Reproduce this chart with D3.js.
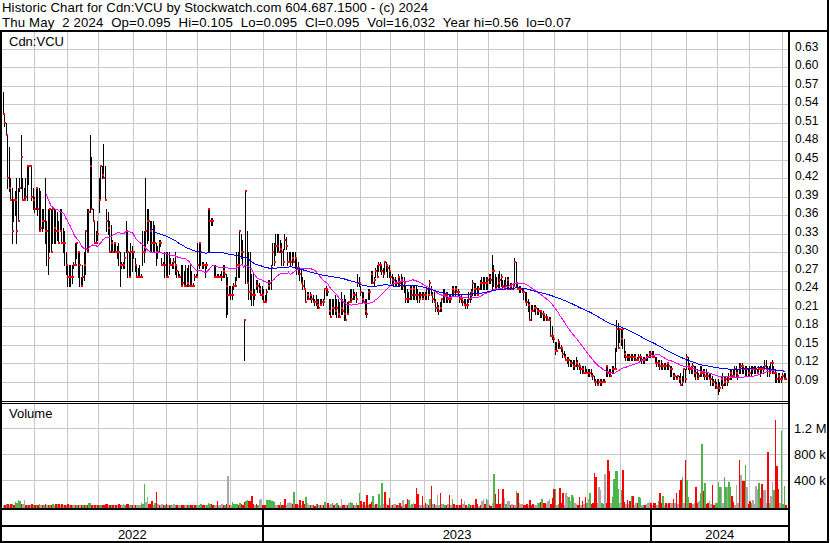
<!DOCTYPE html>
<html>
<head>
<meta charset="utf-8">
<title>Historic Chart for Cdn:VCU</title>
<script src="https://cdn.jsdelivr.net/npm/d3@7"></script>
<style>
  body { margin: 0; background: #fff; }
  svg { display: block; font-family: Arial, "Liberation Sans", sans-serif; }
</style>
</head>
<body>
<svg id="chart" width="830" height="543"></svg>
<script>
// ---- data: one entry per weekday, May 2 2022 .. May 2 2024 ----
// prices in thousandths of a dollar
const high = [
560,525,510,490,470,420,405,385,400,420, 405,420,490,420,405,420,440,440,440,440,
405,390,405,405,405,400,370,370,420,350, 370,370,370,370,370,370,365,350,370,370,
340,335,300,280,280,280,280,285,315,315, 300,300,260,280,300,335,370,370,490,455,
370,350,335,350,420,440,440,475,440,370, 365,350,345,320,315,315,310,315,300,285,
285,300,350,335,300,315,310,300,290,280, 275,280,265,335,335,420,370,370,350,350,
350,345,315,310,320,320,290,285,300,300, 300,300,290,285,290,300,280,270,265,280,
280,270,280,275,280,280,270,250,265,265, 315,315,315,285,285,280,285,370,370,355,
355,280,280,265,265,265,270,280,280,265, 260,245,245,245,250,260,300,300,335,330,
320,190,400,335,300,300,265,265,240,255, 255,250,245,245,240,230,240,255,255,280,
315,315,330,330,330,320,315,305,330,325, 300,300,300,300,300,300,290,285,275,275,
260,255,240,235,235,235,230,230,225,230, 225,225,225,225,225,240,245,240,225,225,
225,225,230,225,225,220,235,225,230,225, 220,220,240,240,240,235,235,265,260,245,
235,235,225,225,240,240,270,270,260,275, 280,285,285,280,275,285,285,280,280,270,
265,260,260,255,265,260,265,260,260,245, 240,235,245,245,245,245,245,240,235,235,
235,235,235,245,240,255,245,235,235,225, 220,215,220,225,240,240,235,235,230,230,
245,245,245,245,240,230,230,225,225,225, 225,235,235,240,255,250,250,245,245,255,
260,260,260,260,260,265,265,295,280,265, 260,265,270,265,255,255,260,260,260,250,
250,250,290,285,250,245,245,240,240,235, 235,225,220,215,215,215,215,210,210,205,
205,205,200,200,195,195,195,180,165,155, 155,160,155,150,145,140,135,130,130,125,
125,125,125,130,125,120,115,115,115,115, 110,110,110,110,105,100,95,95,95,95,
95,95,95,115,115,110,110,115,115,145, 190,185,175,175,175,160,140,135,135,135,
135,135,135,135,130,135,135,130,130,130, 135,135,140,140,140,140,130,130,125,125,
125,120,120,120,120,120,115,115,105,105, 100,100,100,105,100,110,110,135,130,120,
115,120,115,115,110,105,115,115,110,110, 110,105,105,105,100,95,95,90,95,90,
100,105,100,100,100,105,110,110,110,115, 115,110,120,120,120,115,115,115,110,115,
115,115,115,115,110,115,115,115,115,125, 125,115,115,120,125,115,110,105,105,105,
100,105,105,105];
const low = [
525,505,490,405,400,385,315,350,360,315, 350,400,405,385,385,385,385,410,440,385,
370,365,370,360,335,335,335,340,315,280, 265,300,300,315,315,315,320,315,335,315,
300,280,265,245,245,245,250,275,280,290, 260,245,245,245,255,265,300,300,365,370,
350,315,315,320,365,385,420,420,385,335, 330,300,300,300,300,300,290,280,245,275,
275,275,300,260,260,260,270,290,270,260, 260,260,260,280,285,300,315,320,300,300,
300,300,280,290,300,310,280,280,260,260, 260,265,280,275,275,265,260,260,260,245,
245,245,245,245,245,245,245,245,255,260, 260,275,280,275,275,260,275,300,300,345,
345,260,260,260,260,260,255,260,260,195, 200,230,225,225,240,245,255,260,260,290,
280,125,250,250,225,225,215,215,225,240, 235,235,230,225,220,220,220,240,240,240,
280,280,295,300,300,300,280,280,305,305, 280,285,280,280,285,275,265,265,255,250,
240,240,220,225,225,225,220,220,215,215, 210,210,215,215,215,225,230,230,200,195,
200,200,200,195,195,195,200,200,190,190, 200,200,220,220,225,225,220,245,245,230,
220,220,200,195,225,225,250,250,245,260, 260,270,270,265,260,265,270,260,260,250,
250,245,245,245,245,245,240,240,235,220, 220,220,225,225,225,225,225,220,220,225,
225,225,225,225,225,230,230,220,220,205, 205,200,205,205,220,220,220,220,220,220,
230,230,230,235,230,220,220,215,215,210, 210,220,220,225,230,230,230,230,230,240,
240,240,240,240,240,250,250,240,245,240, 240,240,240,245,240,240,240,240,240,240,
240,240,245,245,240,235,235,235,225,220, 215,205,190,190,205,205,200,200,200,195,
195,190,190,190,190,190,165,160,155,135, 140,145,145,140,130,130,125,120,115,115,
115,110,110,115,110,110,105,105,105,105, 105,100,100,100,95,90,85,85,85,85,
85,90,90,100,100,100,100,105,105,110, 140,145,155,150,145,130,125,125,125,125,
125,125,125,125,125,125,125,120,120,120, 125,125,130,130,130,130,120,115,115,110,
110,110,110,110,110,110,100,100,95,95, 95,95,90,85,85,90,90,110,110,105,
105,105,100,95,95,95,100,100,100,95, 95,95,95,85,85,85,80,80,70,75,
85,80,85,85,85,90,95,95,100,100, 100,95,105,105,105,105,100,100,100,100,
100,105,105,105,105,105,100,105,105,110, 110,100,100,105,105,105,90,90,90,90,
90,95,95,95];
const close = [
525,510,490,420,405,385,335,385,385,335, 350,405,455,385,385,390,440,440,440,390,
385,370,405,370,335,340,350,350,335,335, 290,370,300,370,340,335,335,315,335,315,
315,315,280,260,260,260,260,280,280,315, 300,280,245,260,280,335,300,365,440,370,
350,315,315,330,385,440,425,420,385,350, 340,300,315,300,315,300,300,300,280,280,
280,290,335,300,260,300,300,300,280,260, 260,260,260,300,300,335,350,350,335,315,
315,315,300,300,315,315,280,280,280,260, 260,280,280,280,285,280,270,260,260,245,
250,245,245,250,245,245,245,245,260,260, 280,315,300,280,280,280,280,370,350,350,
350,260,260,260,260,260,260,270,265,245, 230,230,230,230,245,245,280,280,335,300,
300,190,400,250,235,235,230,230,230,245, 245,240,230,230,220,220,235,245,250,275,
300,285,310,310,300,305,300,285,320,310, 285,285,285,290,285,290,275,275,265,250,
245,240,220,230,225,230,225,220,220,220, 215,210,215,220,220,240,240,235,205,195,
210,210,205,210,200,195,210,205,200,190, 200,220,220,225,230,230,225,250,250,235,
225,220,205,200,235,235,265,250,255,270, 260,280,280,270,265,285,280,275,270,260,
255,255,250,250,260,250,255,245,250,225, 225,225,240,230,240,230,230,230,225,230,
225,230,230,240,230,250,230,225,220,210, 210,205,210,225,230,230,230,225,225,225,
240,235,240,235,235,225,225,220,215,215, 215,225,230,235,250,240,240,230,240,250,
250,250,250,250,255,260,255,270,270,240, 245,250,255,260,245,240,245,255,240,245,
240,245,285,250,240,240,240,235,235,220, 220,215,190,205,205,210,210,205,205,205,
200,200,195,195,190,190,165,165,160,140, 140,155,145,145,135,130,125,125,125,120,
120,115,115,120,115,115,110,110,105,105, 105,105,105,100,100,90,90,85,90,90,
90,90,90,115,105,105,100,110,110,110, 175,145,175,160,175,135,130,130,130,130,
130,130,130,125,125,130,130,125,125,125, 130,130,135,135,130,130,120,120,120,115,
115,115,115,115,120,115,110,110,100,100, 95,100,95,85,90,110,95,130,115,110,
110,115,105,105,95,100,105,105,105,100, 100,100,95,95,90,90,85,80,80,80,
95,85,90,95,90,95,105,100,100,110, 105,100,110,115,115,110,110,110,105,105,
110,110,110,110,105,110,110,110,110,115, 110,110,105,120,120,105,105,95,100,95,
95,100,95,95];
// volume in thousands of shares
const volume = [
20,15,35,25,20,30,25,20,60,45,90,85,30,25,90,15,20,10,15,25,
15,10,20,15,30,20,15,20,25,15,20,15,10,30,10,25,35,35,20,30,
15,20,15,25,15,10,20,15,20,15,10,15,20,15,10,20,15,40,45,20,
15,15,10,20,15,20,10,15,25,30,15,20,10,15,10,20,15,25,20,15,
35,20,35,25,10,15,10,15,20,15,10,20,40,30,340,60,140,25,30,80,
20,45,215,25,15,20,25,20,15,25,15,20,10,15,25,15,20,15,10,15,
20,10,15,20,15,10,15,10,20,15,10,20,35,20,15,10,15,45,30,25,
20,15,10,80,20,15,25,15,20,35,465,20,15,60,30,25,30,20,45,25,
20,55,75,93,80,70,160,30,20,25,15,90,108,20,10,15,90,95,95,85,
75,60,20,15,10,67,10,10,114,20,50,60,40,25,222,30,30,15,93,20,
80,25,144,50,15,10,20,15,5,25,30,15,20,10,20,67,20,50,15,30,
40,20,25,50,15,5,103,20,10,15,20,50,67,45,15,20,40,20,206,80,
25,60,20,170,20,30,60,160,20,25,30,185,20,361,30,222,30,20,118,15,
10,25,30,15,15,40,5,93,20,25,103,93,20,30,50,30,278,185,20,15,
155,15,40,30,20,108,309,30,25,20,170,20,206,25,30,15,20,25,170,20,
108,25,10,15,15,20,108,25,80,20,5,30,15,10,20,15,108,25,5,20,
75,108,30,108,93,20,5,40,495,185,25,263,30,40,263,125,30,70,75,20,
30,15,20,232,196,40,25,25,20,15,30,20,93,20,25,15,20,40,50,60,
108,40,45,30,70,108,30,128,263,263,20,30,283,40,206,20,196,155,144,70,
175,144,40,30,20,133,20,70,25,133,45,110,196,30,40,516,443,40,299,248,
40,30,490,50,712,542,40,144,413,547,542,263,40,248,557,60,30,93,30,80,
150,150,20,40,45,144,120,15,20,15,30,45,60,45,20,40,45,20,70,196,
40,150,20,45,30,50,50,45,103,45,206,30,248,402,443,50,712,402,144,40,
45,30,50,289,45,70,196,960,237,350,30,40,70,30,325,20,40,40,376,300,
290,40,443,300,299,376,300,150,60,20,325,40,712,475,392,392,634,299,30,75,
50,95,30,309,260,350,120,335,240,240,40,841,50,150,376,250,1330,619,260,40,
1165,30,309,16];
// volume tick: g = up day, r = down day, n = unchanged
const volTick = [
"nrgrnrgrggggrnnrgrnr","grgrgnrgrnrgrgnrgrnr","nrgrnrgnrgrnrgrgrggr","nrnrggrrrrnrgrnrnrrn",
"ngrrngrnrnnngggnnrrr","ngrnrnnrgrnrgnngrnnr","rgnrgrrnrgnggrrngggr","rnnrnnnrgrnrnggggrgr",
"rrggrrrrnrgnnrrrgggg","ggnnrgrrrnnnnrgrrnrn","rrgnnrnrrgrnrnrgnrnn","grngrnnrrnrnggrngrgr",
"nrnrgrrgnrngngnrnrrn","rnnrgrrnnrrgngnrrrnn","rnrnrgrnrnnnrnggrnrn","grnrnrrnnrngrnrnrrnr",
"nnrgnrrngrrrrnrngnnr","nrngrnnnrrrnrrrnnngr","grrnnnrrrgngrrrnnngn","ggnnrrnrnrgngrrrrnnn",
"ggnrrrngggggngrrnrnr","grnnrggngrnnnrnrrngr","rgnrnrnnrnrnrrgnrggr","rnnrrnggrgrrnnrrgggg",
"nnggnggrrnnnrnrrgnrr","gnnnngrrnnnrgnngrrrn","gggr"].join("");

const priceTicks = [0.09,0.12,0.15,0.18,0.21,0.24,0.27,0.30,0.33,0.36,0.39,0.42,0.45,0.48,0.51,0.54,0.57,0.60,0.63];
const volTicks = [400000, 800000, 1200000];
const volLabels = ["400 k", "800 k", "1.2 M"];
const maPeriods = [30, 100];
const maColors = ["#ff00ff", "#0000ff"];
const headerLines = [
  "Historic Chart for Cdn:VCU by Stockwatch.com 604.687.1500 - (c) 2024",
  "Thu May  2 2024  Op=0.095  Hi=0.105  Lo=0.095  Cl=0.095  Vol=16,032  Year hi=0.56  lo=0.07"
];
const headerWidths = [426, 569];

// ---- build ----
const days = d3.timeDay.range(new Date(2022, 4, 2), new Date(2024, 4, 3))
  .filter(d => d.getDay() > 0 && d.getDay() < 6);
const bars = days.map((date, i) => ({
  date, i,
  high: high[i] / 1000, low: low[i] / 1000, close: close[i] / 1000,
  vol: volume[i] * 1000, tick: volTick[i]
}));

const svg = d3.select("#chart");
const x = d3.scaleLinear().domain([0, bars.length - 1]).range([3, 785]);
const yP = d3.scaleLinear().domain([0.09, 0.63]).range([381.8, 48.8]);
const yV = d3.scaleLinear().domain([0, 1600000]).range([506, 402.6]);
const px = i => Math.round(x(i));

// month boundaries (first weekday of each month)
const monthStarts = [];
bars.forEach((d, i) => {
  if (i > 0 && d.date.getMonth() !== bars[i - 1].date.getMonth()) monthStarts.push(d);
});
const gridX = d => Math.round(x(d.i - 1.3)) + 0.5;

// grid
const grid = svg.append("g").attr("stroke", "#c8c8c8").attr("shape-rendering", "crispEdges");
grid.selectAll(".hp").data(priceTicks).join("line")
  .attr("x1", 2).attr("x2", 788)
  .attr("y1", d => Math.round(yP(d)) + 0.5).attr("y2", d => Math.round(yP(d)) + 0.5);
grid.selectAll(".hv").data(volTicks).join("line")
  .attr("x1", 2).attr("x2", 788)
  .attr("y1", d => Math.round(yV(d)) + 0.5).attr("y2", d => Math.round(yV(d)) + 0.5);
grid.selectAll(".vp").data(monthStarts).join("line")
  .attr("x1", gridX).attr("x2", gridX).attr("y1", 32).attr("y2", 401);
grid.selectAll(".vv").data(monthStarts).join("line")
  .attr("x1", gridX).attr("x2", gridX).attr("y1", 404).attr("y2", 508);

// volume bars
svg.append("g").attr("shape-rendering", "crispEdges")
  .selectAll("rect").data(bars.filter(d => d.vol > 0)).join("rect")
  .attr("x", d => px(d.i))
  .attr("width", d => Math.max(1, (d.i < bars.length - 1 ? px(d.i + 1) : px(d.i) + 2) - px(d.i)))
  .attr("y", d => yV(d.vol))
  .attr("height", d => 508 - yV(d.vol))
  .attr("fill", d => d.tick === "g" ? "#4cb64c" : d.tick === "r" ? "#ff0000" : "#a8a8a8");

// price bars
const gBars = svg.append("g").attr("shape-rendering", "crispEdges");
gBars.selectAll(".hl").data(bars.filter(d => d.high > d.low)).join("rect")
  .attr("x", d => px(d.i))
  .attr("y", d => Math.round(yP(d.high)))
  .attr("width", 1)
  .attr("height", d => Math.round(yP(d.low)) - Math.round(yP(d.high)) + 1)
  .attr("fill", "#000");
gBars.selectAll(".cl").data(bars).join("rect")
  .attr("class", "cl")
  .attr("x", d => px(d.i))
  .attr("y", d => Math.round(yP(d.close)) - 1)
  .attr("width", 2).attr("height", 2)
  .attr("fill", "#ff0000");

// moving averages
const closes = bars.map(d => d.close);
maPeriods.forEach((n, k) => {
  const ma = closes.map((v, i) => i < n - 1 ? null : d3.mean(closes.slice(i - n + 1, i + 1)));
  svg.append("path")
    .datum(ma)
    .attr("fill", "none")
    .attr("stroke", maColors[k])
    .attr("stroke-width", 1)
    .attr("shape-rendering", "crispEdges")
    .attr("d", d3.line().defined(v => v != null).x((v, i) => x(i)).y(v => yP(v)));
});

// frame
const frame = svg.append("g").attr("fill", "#000").attr("shape-rendering", "crispEdges");
frame.append("rect").attr("x", 0).attr("y", 30).attr("width", 829).attr("height", 2);   // under header
frame.append("rect").attr("x", 0).attr("y", 30).attr("width", 2).attr("height", 513);   // left
frame.append("rect").attr("x", 788).attr("y", 30).attr("width", 2).attr("height", 513); // axis
frame.append("rect").attr("x", 827).attr("y", 0).attr("width", 2).attr("height", 543);  // right
frame.append("rect").attr("x", 0).attr("y", 401).attr("width", 790).attr("height", 1);
frame.append("rect").attr("x", 0).attr("y", 403).attr("width", 790).attr("height", 1);
frame.append("rect").attr("x", 0).attr("y", 508).attr("width", 790).attr("height", 2);
frame.append("rect").attr("x", 0).attr("y", 525).attr("width", 790).attr("height", 2);
frame.append("rect").attr("x", 0).attr("y", 541).attr("width", 829).attr("height", 2);

// year separators and labels
const yearStarts = monthStarts.filter(d => d.date.getMonth() === 0);
frame.selectAll(".ys").data(yearStarts).join("rect")
  .attr("x", d => Math.round(x(d.i - 1.3)) - 1).attr("y", 508).attr("width", 2).attr("height", 35);
const yearBounds = [2].concat(yearStarts.map(d => x(d.i - 1.3)), [788]);
const yearNames = [2022, 2023, 2024];
svg.append("g").selectAll("text").data(yearNames).join("text")
  .attr("x", (d, k) => (yearBounds[k] + yearBounds[k + 1]) / 2)
  .attr("y", 539)
  .attr("text-anchor", "middle")
  .attr("font-size", 13)
  .text(d => d);

// text
svg.append("g").selectAll("text").data(headerLines).join("text")
  .attr("x", 2).attr("y", (d, k) => 12 + k * 15)
  .attr("font-size", 13.2)
  .attr("textLength", (d, k) => headerWidths[k])
  .attr("lengthAdjust", "spacing")
  .style("white-space", "pre")
  .text(d => d);
svg.append("text").attr("x", 9).attr("y", 46).attr("font-size", 13).text("Cdn:VCU");
svg.append("text").attr("x", 9).attr("y", 418).attr("font-size", 13).text("Volume");

svg.append("g").selectAll("text").data(priceTicks).join("text")
  .attr("x", 795).attr("y", d => yP(d) + 2)
  .attr("font-size", 12)
  .text(d => d.toFixed(2));
svg.append("g").selectAll("text").data(volTicks).join("text")
  .attr("x", 794).attr("y", d => yV(d) + 5)
  .attr("font-size", 13)
  .text((d, k) => volLabels[k]);
</script>
</body>
</html>
